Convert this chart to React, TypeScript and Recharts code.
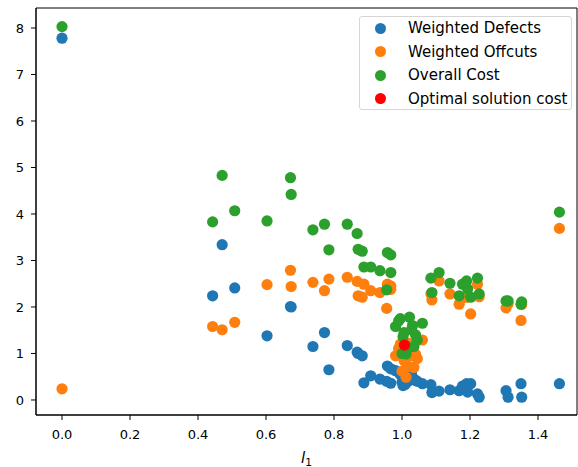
import {
    ScatterChart,
    Scatter,
    XAxis,
    YAxis,
    Legend,
    Label,
    ReferenceArea,
} from "recharts";

// l1 value of each evaluated configuration
const l1Values = [
    0.0, 0.443, 0.471, 0.508, 0.603, 0.672, 0.674, 0.738, 0.772, 0.785,
    0.839, 0.868, 0.871, 0.883, 0.888, 0.908, 0.935, 0.955, 0.957, 0.967,
    0.967, 0.981, 0.99, 0.995, 1.0, 1.003, 1.006, 1.009, 1.012, 1.018,
    1.022, 1.028, 1.031, 1.035, 1.04, 1.045, 1.06, 1.085, 1.088, 1.109,
    1.141, 1.168, 1.178, 1.19, 1.193, 1.202, 1.222, 1.227, 1.306, 1.312,
    1.35, 1.352, 1.463,
];

const weightedDefects = [
    7.78, 2.24, 3.34, 2.41, 1.38, 2.01, 2.0, 1.15, 1.45, 0.65,
    1.17, 1.03, 1.0, 0.95, 0.37, 0.52, 0.45, 0.4, 0.73, 0.67,
    0.36, 0.63, 0.6, 0.55, 0.38, 0.31, 0.6, 0.33, 0.5, 0.4,
    0.56, 0.56, 0.45, 0.45, 0.42, 0.4, 0.35, 0.33, 0.16, 0.19,
    0.22, 0.2, 0.3, 0.35, 0.17, 0.35, 0.13, 0.06, 0.2, 0.06,
    0.35, 0.06, 0.35,
];

const weightedOffcuts = [
    0.24, 1.58, 1.51, 1.67, 2.48, 2.79, 2.44, 2.53, 2.35, 2.6,
    2.64, 2.55, 2.24, 2.21, 2.49, 2.35, 2.31, 1.97, 2.49, 2.45,
    2.38, 0.95, 1.1, 1.2, 0.62, 1.05, 0.85, 0.85, 0.49, 0.72,
    1.22, 0.95, 1.15, 0.7, 0.98, 0.89, 1.29, 2.28, 2.15, 2.56,
    2.28, 2.06, 2.19, 2.21, 2.22, 1.85, 2.49, 2.22, 1.98, 2.07,
    1.71, 2.05, 3.69,
];

const overallCost = [
    8.03, 3.83, 4.83, 4.07, 3.85, 4.78, 4.42, 3.66, 3.78, 3.23,
    3.78, 3.58, 3.24, 3.2, 2.86, 2.86, 2.78, 2.37, 3.17, 3.12,
    2.74, 1.58, 1.7, 1.75, 1.0, 1.36, 1.45, 1.18, 0.99, 1.12,
    1.78, 1.51, 1.6, 1.15, 1.4, 1.29, 1.65, 2.62, 2.31, 2.74,
    2.51, 2.24, 2.49, 2.56, 2.39, 2.21, 2.62, 2.28, 2.13, 2.13,
    2.06, 2.11, 4.04,
];

const optimalL1 = [1.007];
const optimalCost = [1.18];

const xTicks = [0, 0.2, 0.4, 0.6, 0.8, 1.0, 1.2, 1.4];
const yTicks = [0, 1, 2, 3, 4, 5, 6, 7, 8];

const xDomain = [-0.0765, 1.5147];
const yDomain = [-0.323, 8.43];

const BLUE = "#1f77b4";
const ORANGE = "#ff7f0e";
const GREEN = "#2ca02c";
const RED = "#ff0000";
const FONT = "DejaVu Sans, sans-serif";

const toPoints = (xs: number[], ys: number[]) =>
    xs.map((x, i) => ({ x, y: ys[i] }));

const defectsData = toPoints(l1Values, weightedDefects);
const offcutsData = toPoints(l1Values, weightedOffcuts);
const overallData = toPoints(l1Values, overallCost);
const optimalData = toPoints(optimalL1, optimalCost);

const legendItems = [
    { name: "Weighted Defects", color: BLUE },
    { name: "Weighted Offcuts", color: ORANGE },
    { name: "Overall Cost", color: GREEN },
    { name: "Optimal solution cost", color: RED },
];

const dot = (color: string) => (props: any) =>
    <circle cx={props.cx} cy={props.cy} r={5.6} fill={color} />;

const LegendBox = () => (
    <div
        style={{
            width: 213,
            height: 94,
            border: "1px solid #d6d6d6",
            borderRadius: 3,
            background: "rgba(255,255,255,0.8)",
            boxSizing: "border-box",
            fontFamily: FONT,
            fontSize: 15,
            color: "#000",
        }}
    >
        {legendItems.map((item, i) => (
            <div
                key={item.name}
                style={{
                    position: "absolute",
                    left: 0,
                    top: 12 + i * 23.5 - 10,
                    height: 20,
                    display: "flex",
                    alignItems: "center",
                    whiteSpace: "nowrap",
                }}
            >
                <span
                    style={{
                        display: "inline-block",
                        width: 11,
                        height: 11,
                        borderRadius: "50%",
                        background: item.color,
                        marginLeft: 15.5,
                        marginRight: 22.5,
                    }}
                />
                <span>{item.name}</span>
            </div>
        ))}
    </div>
);

const AxisLabel = (props: any) => {
    const vb = props.viewBox || {};
    const cx = vb.x + vb.width / 2;
    return (
        <text x={cx} y={vb.y + 48} textAnchor="middle" fontFamily={FONT} fill="#000">
            <tspan fontStyle="italic" fontSize={15}>l</tspan>
            <tspan fontSize={10.5} dy={3}>1</tspan>
        </text>
    );
};

export default function App() {
    return (
        <div
            style={{
                position: "absolute",
                left: 0,
                top: 0,
                width: 578,
                height: 467,
                background: "#fff",
            }}
        >
            <ScatterChart
                width={578}
                height={467}
                margin={{ top: 8, right: 1, bottom: 0, left: 0 }}
            >
                <XAxis
                    type="number"
                    dataKey="x"
                    domain={xDomain}
                    ticks={xTicks}
                    allowDataOverflow
                    height={52}
                    tickSize={5}
                    tickMargin={10}
                    tickFormatter={(v) => v.toFixed(1)}
                    stroke="#000"
                    tick={{ fill: "#000", fontSize: 13, fontFamily: FONT }}
                >
                    <Label content={<AxisLabel />} />
                </XAxis>
                <YAxis
                    type="number"
                    dataKey="y"
                    domain={yDomain}
                    ticks={yTicks}
                    allowDataOverflow
                    width={36}
                    tickSize={5}
                    tickMargin={7}
                    stroke="#000"
                    tick={{ fill: "#000", fontSize: 13, fontFamily: FONT }}
                />
                <ReferenceArea
                    x1={xDomain[0]}
                    x2={xDomain[1]}
                    y1={yDomain[0]}
                    y2={yDomain[1]}
                    fill="none"
                    stroke="#000"
                    strokeWidth={1}
                    ifOverflow="visible"
                />
                <Scatter
                    name="Weighted Defects"
                    data={defectsData}
                    fill={BLUE}
                    shape={dot(BLUE)}
                    isAnimationActive={false}
                />
                <Scatter
                    name="Weighted Offcuts"
                    data={offcutsData}
                    fill={ORANGE}
                    shape={dot(ORANGE)}
                    isAnimationActive={false}
                />
                <Scatter
                    name="Overall Cost"
                    data={overallData}
                    fill={GREEN}
                    shape={dot(GREEN)}
                    isAnimationActive={false}
                />
                <Scatter
                    name="Optimal solution cost"
                    data={optimalData}
                    fill={RED}
                    shape={dot(RED)}
                    isAnimationActive={false}
                />
                <Legend
                    layout="horizontal"
                    verticalAlign="middle"
                    align="center"
                    content={<LegendBox />}
                    wrapperStyle={{
                        position: "absolute",
                        left: 359,
                        top: 16,
                        width: 213,
                        height: 94,
                    }}
                />
            </ScatterChart>
        </div>
    );
}
